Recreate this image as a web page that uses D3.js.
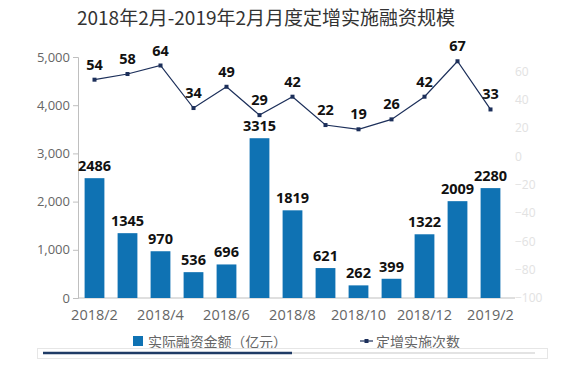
<!DOCTYPE html>
<html>
<head>
<meta charset="utf-8">
<script src="https://cdn.jsdelivr.net/npm/d3@7"></script>
<style>
  body { margin: 0; background: #fff; }
  svg { display: block; }
  .cjk { font-family: "Noto Sans CJK SC", sans-serif; }
</style>
</head>
<body>
<div id="chart"></div>
<script>
// 月份 / 融资金额（亿元）/ 实施次数
var months = ["2018/2","2018/3","2018/4","2018/5","2018/6","2018/7","2018/8",
  "2018/9","2018/10","2018/11","2018/12","2019/1","2019/2"];
var amount = [2486, 1345, 970, 536, 696, 3315, 1819, 621, 262, 399, 1322, 2009, 2280];
var count = [54, 58, 64, 34, 49, 29, 42, 22, 19, 26, 42, 67, 33];
var leftTicks = [0, 1000, 2000, 3000, 4000, 5000];
var rightTicks = [-100, -80, -60, -40, -20, 0, 20, 40, 60];

var W = 580, H = 371;
var plot = {left: 78, right: 507, top: 57, bottom: 298};
var barColor = "#0f72b3", lineColor = "#1c2f5a";

var data = months.map(function(m, i) { return {m: m, amt: amount[i], cnt: count[i]}; });

var svg = d3.select("#chart").append("svg")
  .attr("width", W).attr("height", H);

var x = d3.scaleBand().domain(months).range([plot.left, plot.right]).paddingInner(0.4).paddingOuter(0.2);
var y = d3.scaleLinear().domain([0, 5000]).range([plot.bottom, plot.top]);
var y2 = d3.scaleLinear().domain([-100, 70]).range([plot.bottom, plot.top]);

// title
svg.append("text").attr("class", "cjk")
  .attr("x", 266).attr("y", 25)
  .attr("text-anchor", "middle")
  .style("font-size", "19px").style("fill", "#333")
  .text("2018年2月-2019年2月月度定增实施融资规模");

// left axis
var gl = svg.append("g").attr("transform", "translate(" + plot.left + ",0)")
  .call(d3.axisLeft(y).tickValues(leftTicks).tickSize(5).tickPadding(3).tickFormat(d3.format(",")));
gl.selectAll("path, line").attr("stroke", "#bfbfbf");
gl.selectAll("text").style("font-family", "'Open Sans', sans-serif").style("font-size", "13px").style("fill", "#666");

// right axis (labels only, very light)
var gr = svg.append("g").attr("transform", "translate(" + (plot.right + 8) + ",0)")
  .call(d3.axisRight(y2).tickValues(rightTicks).tickSize(0).tickPadding(0));
gr.select(".domain").remove();
gr.selectAll("text").style("font-family", "'Open Sans', sans-serif").style("font-size", "12px").style("fill", "#e2e2e2");

// bottom axis
var gb = svg.append("g").attr("transform", "translate(0," + plot.bottom + ")")
  .call(d3.axisBottom(x).tickValues(months.filter(function(d, i) { return i % 2 == 0; })).tickSize(0).tickPadding(12));
gb.select(".domain").attr("stroke", "#bfbfbf").attr("d", "M" + plot.left + ",0H" + (plot.right + 8));
gb.selectAll("text").style("font-family", "'Open Sans', sans-serif").style("font-size", "14.5px").style("fill", "#666");

// bars
svg.append("g").selectAll("rect")
  .data(data)
  .join("rect")
  .attr("x", function(d) { return x(d.m); })
  .attr("y", function(d) { return y(d.amt); })
  .attr("width", x.bandwidth())
  .attr("height", function(d) { return plot.bottom - y(d.amt); })
  .attr("fill", barColor);

svg.append("g").selectAll("text")
  .data(data)
  .join("text")
  .attr("x", function(d) { return x(d.m) + x.bandwidth() / 2; })
  .attr("y", function(d) { return y(d.amt) - 7; })
  .attr("text-anchor", "middle")
  .style("font-family", "'Open Sans', sans-serif").style("font-weight", "bold")
  .style("font-size", "14.5px").style("fill", "#111")
  .text(function(d) { return d.amt; });

// line
var line = d3.line()
  .x(function(d) { return x(d.m) + x.bandwidth() / 2; })
  .y(function(d) { return y2(d.cnt); });

svg.append("path").datum(data)
  .attr("d", line)
  .attr("fill", "none").attr("stroke", lineColor).attr("stroke-width", 1.2);

svg.append("g").selectAll("rect")
  .data(data)
  .join("rect")
  .attr("x", function(d) { return x(d.m) + x.bandwidth() / 2 - 2; })
  .attr("y", function(d) { return y2(d.cnt) - 2; })
  .attr("width", 4).attr("height", 4)
  .attr("fill", lineColor);

svg.append("g").selectAll("text")
  .data(data)
  .join("text")
  .attr("x", function(d) { return x(d.m) + x.bandwidth() / 2; })
  .attr("y", function(d) { return y2(d.cnt) - 10; })
  .attr("text-anchor", "middle")
  .style("font-family", "'Open Sans', sans-serif").style("font-weight", "bold")
  .style("font-size", "14.5px").style("fill", "#111")
  .text(function(d) { return d.cnt; });

// legend
var lg = svg.append("g");
lg.append("rect").attr("x", 133).attr("y", 336).attr("width", 10).attr("height", 10).attr("fill", barColor);
lg.append("text").attr("class", "cjk").attr("x", 148).attr("y", 347)
  .attr("textLength", 139)
  .style("font-size", "14px").style("fill", "#666").text("实际融资金额（亿元）");
lg.append("line").attr("x1", 360).attr("x2", 373).attr("y1", 341).attr("y2", 341)
  .attr("stroke", lineColor).attr("stroke-width", 1.2);
lg.append("rect").attr("x", 364.5).attr("y", 339).attr("width", 4).attr("height", 4).attr("fill", lineColor);
lg.append("text").attr("class", "cjk").attr("x", 376).attr("y", 347)
  .style("font-size", "14px").style("fill", "#666").text("定增实施次数");

// scroll bar at the bottom
svg.append("rect").attr("x", 37.5).attr("y", 348.5).attr("width", 510).attr("height", 10)
  .attr("fill", "#fff").attr("stroke", "#e6e6e6");
svg.append("line").attr("x1", 43).attr("x2", 535).attr("y1", 353).attr("y2", 353)
  .attr("stroke", "#e3e3e3").attr("stroke-width", 2);
svg.append("line").attr("x1", 43).attr("x2", 292).attr("y1", 353).attr("y2", 353)
  .attr("stroke", "#1f3b66").attr("stroke-width", 2.5);
</script>
</body>
</html>
